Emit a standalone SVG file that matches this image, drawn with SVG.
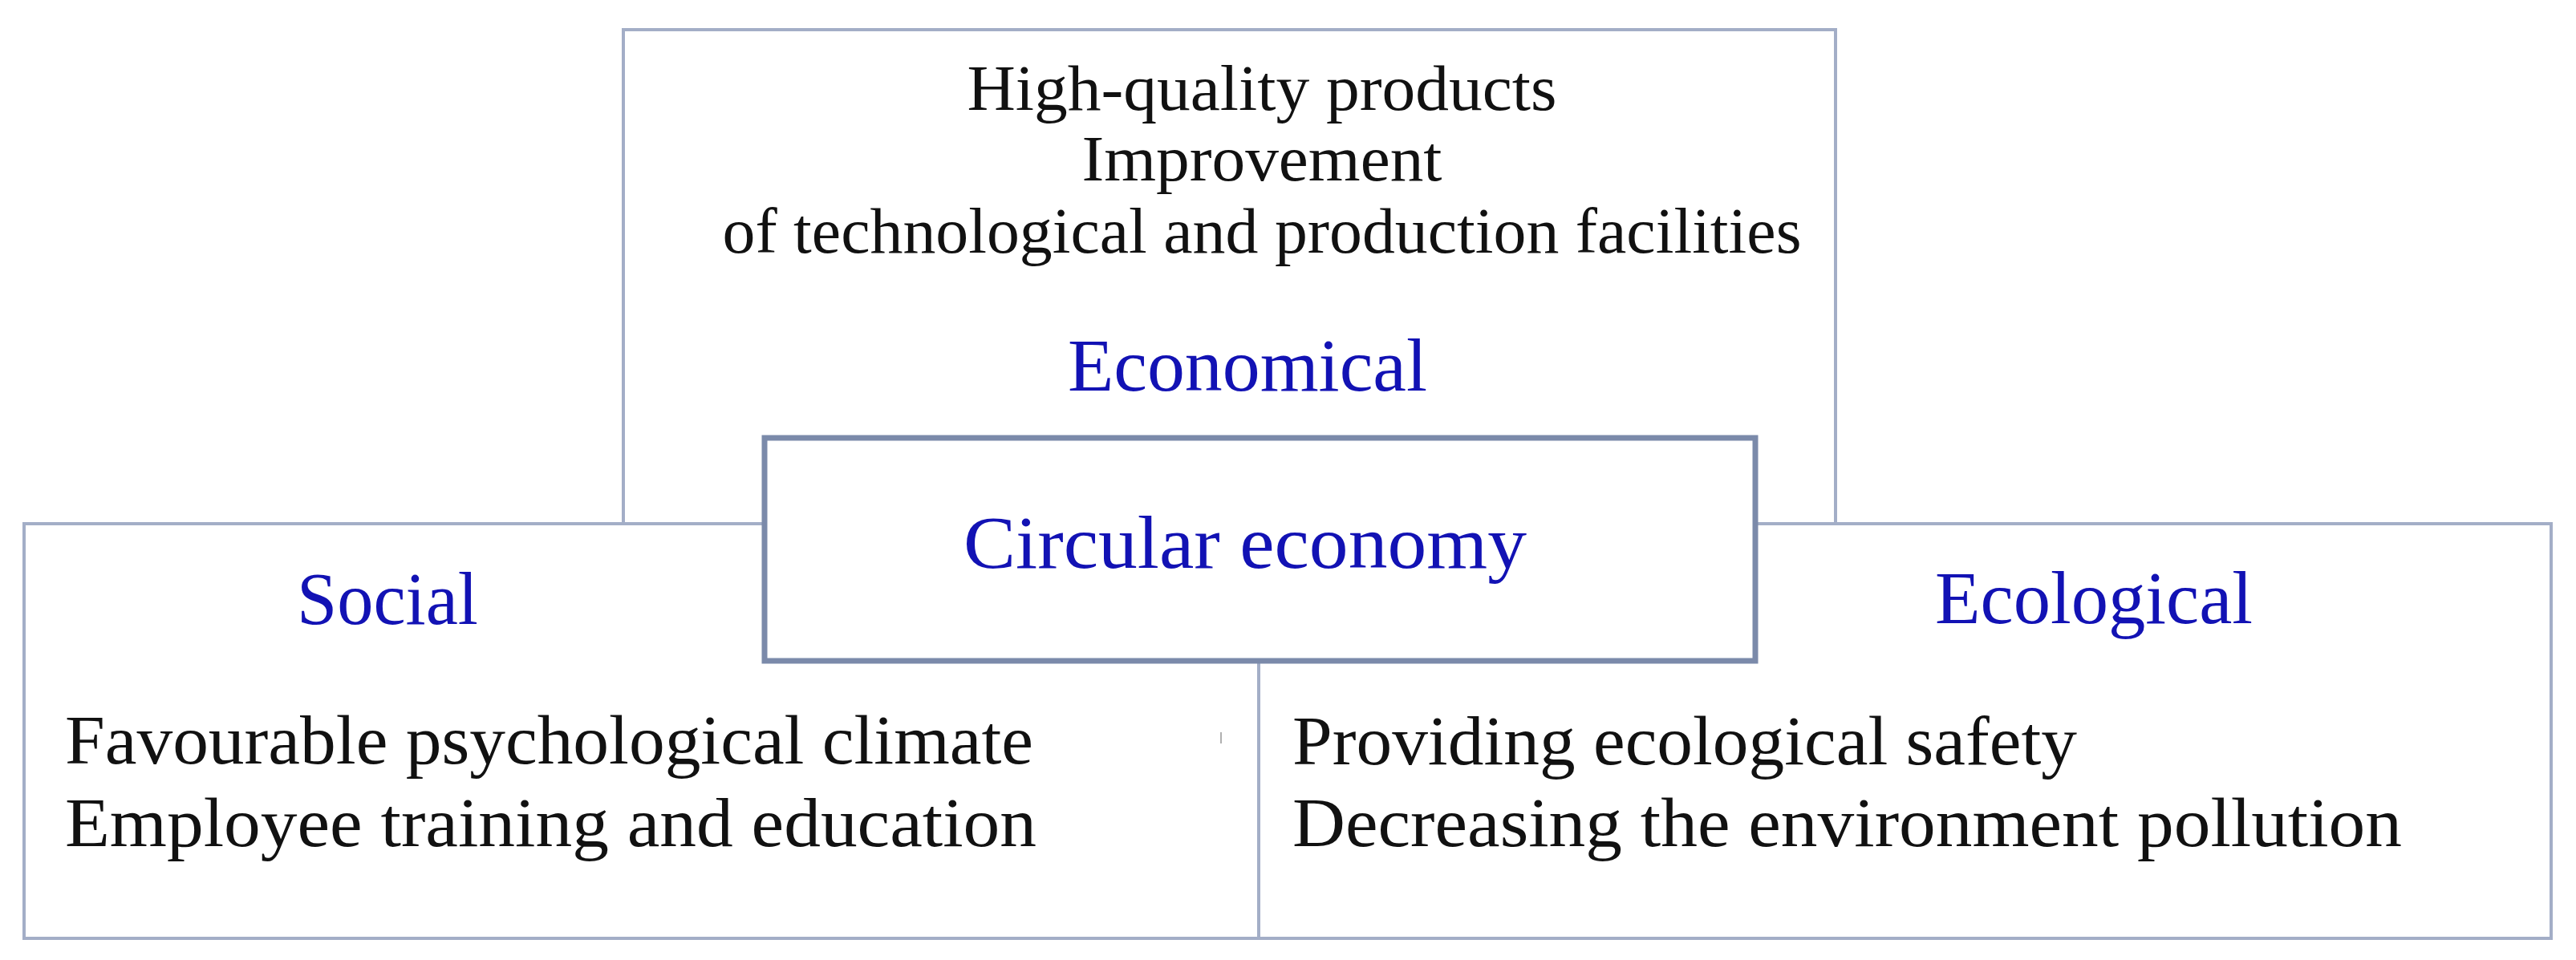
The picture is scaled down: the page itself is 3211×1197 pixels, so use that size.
<svg xmlns="http://www.w3.org/2000/svg" width="3211" height="1197" viewBox="0 0 3211 1197">
<style>
.box{fill:#ffffff;stroke:#a3aec7;stroke-width:4}
.core{fill:#ffffff;stroke:#7b8aaa;stroke-width:7}
.body{font-family:"Liberation Serif","Times New Roman",serif;fill:#111111}
.head{font-family:"Liberation Serif","Times New Roman",serif;fill:#1212b4;font-size:94px}
</style>
<rect x="0" y="0" width="3211" height="1197" fill="#ffffff"/>
<g id="economical">
<rect class="box" x="777" y="37" width="1511" height="616"/>
<text class="body" font-size="80" x="1573" y="137" text-anchor="middle" textLength="735" lengthAdjust="spacingAndGlyphs">High-quality products</text>
<text class="body" font-size="80" x="1573" y="225" text-anchor="middle" textLength="449" lengthAdjust="spacingAndGlyphs">Improvement</text>
<text class="body" font-size="80" x="1573" y="315" text-anchor="middle" textLength="1345" lengthAdjust="spacingAndGlyphs">of technological and production facilities</text>
<text class="head" x="1555" y="487" text-anchor="middle" textLength="448" lengthAdjust="spacingAndGlyphs">Economical</text>
</g>
<g id="social">
<rect class="box" x="30" y="653" width="1539" height="517"/>
<text class="head" x="483" y="778" text-anchor="middle" textLength="226" lengthAdjust="spacingAndGlyphs">Social</text>
<text class="body" font-size="86" x="81" y="952" textLength="1207" lengthAdjust="spacingAndGlyphs">Favourable psychological climate</text>
<text class="body" font-size="86" x="81" y="1055" textLength="1211" lengthAdjust="spacingAndGlyphs">Employee training and education</text>
<line x1="1522" y1="913" x2="1522" y2="927" stroke="#b0b0b0" stroke-width="2"/>
</g>
<g id="ecological">
<rect class="box" x="1569" y="653" width="1611" height="517"/>
<text class="head" x="2610" y="777" text-anchor="middle" textLength="396" lengthAdjust="spacingAndGlyphs">Ecological</text>
<text class="body" font-size="86" x="1611" y="953" textLength="978" lengthAdjust="spacingAndGlyphs">Providing ecological safety</text>
<text class="body" font-size="86" x="1611" y="1055" textLength="1383" lengthAdjust="spacingAndGlyphs">Decreasing the environment pollution</text>
</g>
<g id="circular-economy">
<rect class="core" x="953" y="546" width="1235" height="278"/>
<text class="head" x="1552" y="708" text-anchor="middle" textLength="702" lengthAdjust="spacingAndGlyphs">Circular economy</text>
</g>
<g id="connectors"/>
</svg>
